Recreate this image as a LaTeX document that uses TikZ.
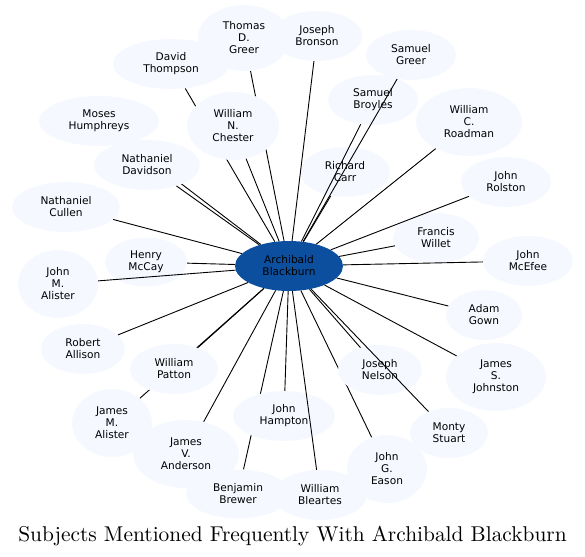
\documentclass[tikz,border=0pt]{standalone}
\usepackage{fontspec}
\newfontfamily\nodefont{DejaVu Sans}
\newfontfamily\titlefont{lmroman10-regular}[Extension=.otf]
\usetikzlibrary{shapes.geometric}
\pgfdeclarelayer{bg}
\pgfdeclarelayer{fg}
\pgfsetlayers{bg,main,fg}
\definecolor{nodefill}{HTML}{F5F9FF}
\definecolor{centerfill}{HTML}{0B4F9E}
\begin{document}
\begin{tikzpicture}[x=1pt,y=-1pt,
  nd/.style={ellipse, fill=nodefill, inner sep=0pt, align=center,
    font=\nodefont\fontsize{10.6pt}{12pt}\selectfont},
  sz/.style 2 args={minimum width=#1pt, minimum height=#2pt},
  lk/.style={line width=0.9pt, black}]
\useasboundingbox (0,0) rectangle (585,556);
% nodes
\node[nd, sz={108}{50}, fill=centerfill] (c) at (289,266) {Archibald\\Blackburn};
\node[nd, sz={92}{66}] (tdg) at (244,38) {Thomas\\D.\\Greer};
\node[nd, sz={90}{50}] (jb) at (317,36) {Joseph\\Bronson};
\node[nd, sz={90}{50}] (sg) at (411,55) {Samuel\\Greer};
\node[nd, sz={116}{50}] (dt) at (171,64) {David\\Thompson};
\node[nd, sz={92}{68}] (wnc) at (233,126) {William\\N.\\Chester};
\node[nd, sz={120}{50}] (mh) at (99,121) {Moses\\Humphreys};
\node[nd, sz={106}{50}] (ndv) at (147,165) {Nathaniel\\Davidson};
\node[nd, sz={108}{50}] (nc) at (66,207) {Nathaniel\\Cullen};
\node[nd, sz={82}{49}] (hm) at (146,262) {Henry\\McCay};
\node[nd, sz={80}{68}] (jma) at (58,284) {John\\M.\\Alister};
\node[nd, sz={84}{50}] (ra) at (83,349) {Robert\\Allison};
\node[nd, sz={88}{50}] (wp) at (174,369) {William\\Patton};
\node[nd, sz={80}{68}] (jmal) at (112,423) {James\\M.\\Alister};
\node[nd, sz={106}{68}] (jva) at (186,454) {James\\V.\\Anderson};
\node[nd, sz={102}{50}] (jh) at (284,416) {John\\Hampton};
\node[nd, sz={104}{49}] (bb) at (238,494) {Benjamin\\Brewer};
\node[nd, sz={94}{50}] (wb) at (320,495) {William\\Bleartes};
\node[nd, sz={80}{68}] (jge) at (387,469) {John\\G.\\Eason};
\node[nd, sz={78}{50}] (ms) at (449,433) {Monty\\Stuart};
\node[nd, sz={84}{50}] (jn) at (380,370) {Joseph\\Nelson};
\node[nd, sz={100}{68}] (jsj) at (496,377) {James\\S.\\Johnston};
\node[nd, sz={76}{50}] (ag) at (484,315) {Adam\\Gown};
\node[nd, sz={90}{50}] (jm) at (528,261) {John\\McEfee};
\node[nd, sz={86}{50}] (fw) at (436,238) {Francis\\Willet};
\node[nd, sz={90}{50}] (jr) at (506,182) {John\\Rolston};
\node[nd, sz={106}{68}] (wcr) at (469,122) {William\\C.\\Roadman};
\node[nd, sz={90}{50}] (sb) at (373,100) {Samuel\\Broyles};
\node[nd, sz={90}{50}] (rc) at (345,172) {Richard\\Carr};
% edges hidden under other nodes
\begin{pgfonlayer}{bg}
\foreach \n in {mh,dt,tdg,jmal,bb,jge,rc}
  \draw[lk] (c) -- (\n);
\end{pgfonlayer}
% edges drawn over nodes
\begin{pgfonlayer}{fg}
\foreach \n in {jb,sg,wnc,ndv,nc,hm,jma,ra,wp,jva,jh,wb,ms,jn,jsj,ag,jm,fw,jr,wcr,sb}
  \draw[lk] (c) -- (\n);
\end{pgfonlayer}
% title
\node[font=\titlefont\fontsize{21.4pt}{24pt}\selectfont, anchor=base, inner sep=0pt] (title) at (292.5,541) {Subjects Mentioned Frequently With Archibald Blackburn};
\end{tikzpicture}
\end{document}
